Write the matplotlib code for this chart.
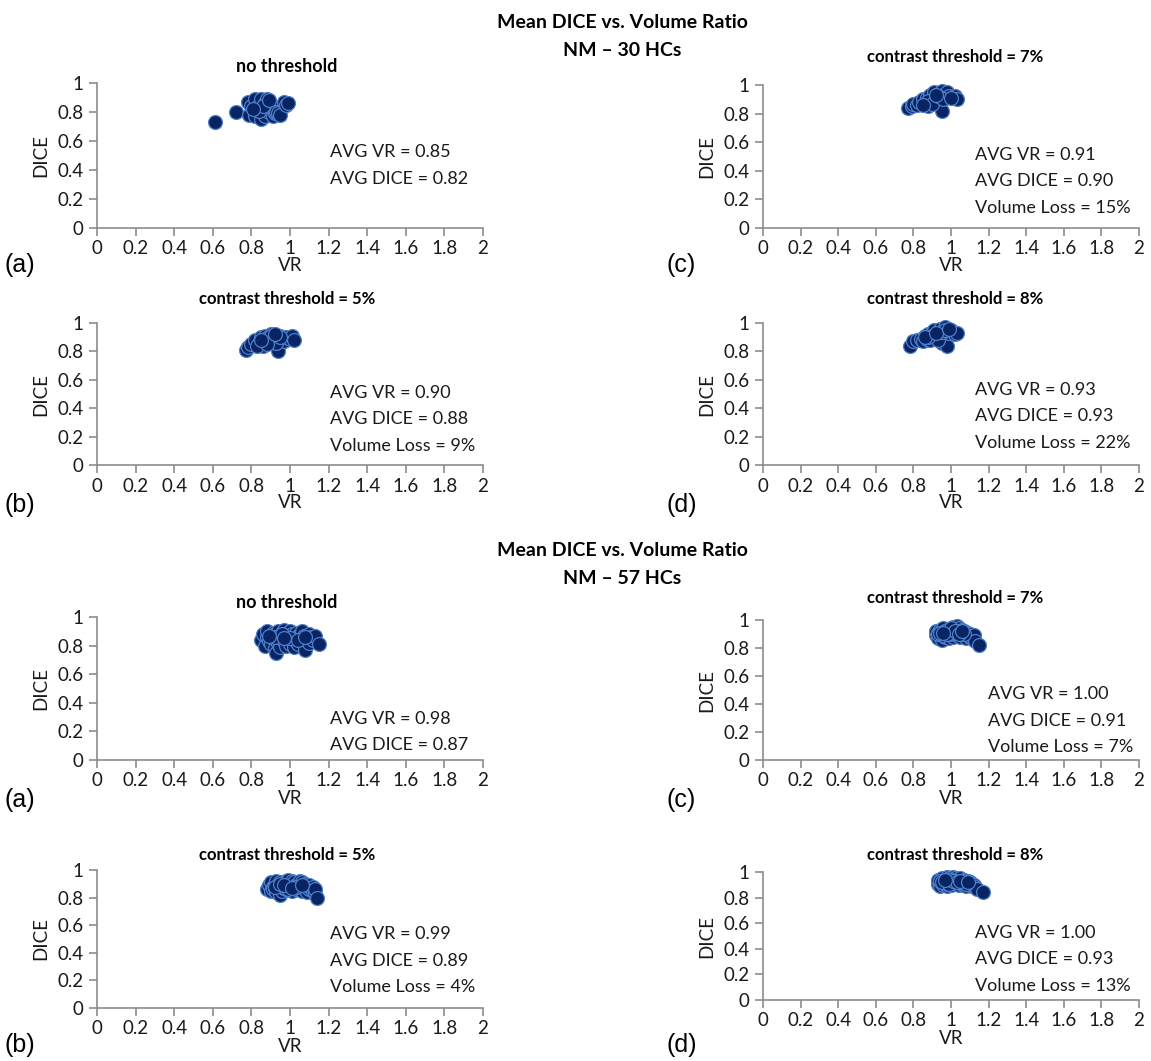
import numpy as np
import matplotlib
matplotlib.use("Agg")
from matplotlib import pyplot as plt

W, H = 1151, 1061

# ---- data: NM - 30 HCs ----
x_a30 = [0.61, 0.72, 0.78, 0.79, 0.80, 0.82, 0.82, 0.83, 0.84, 0.85, 0.85, 0.86, 0.87, 0.87, 0.88,
         0.88, 0.89, 0.90, 0.91, 0.92, 0.93, 0.94, 0.95, 0.97, 0.98, 0.99, 0.84, 0.86, 0.81, 0.89]
y_a30 = [0.73, 0.80, 0.87, 0.78, 0.84, 0.89, 0.77, 0.82, 0.85, 0.89, 0.75, 0.80, 0.86, 0.77, 0.89,
         0.83, 0.80, 0.85, 0.77, 0.79, 0.80, 0.79, 0.78, 0.87, 0.85, 0.86, 0.81, 0.84, 0.82, 0.88]

x_b30 = [0.77, 0.78, 0.80, 0.82, 0.84, 0.85, 0.86, 0.87, 0.88, 0.89, 0.90, 0.91, 0.92, 0.93, 0.94,
         0.95, 0.96, 0.97, 0.98, 1.00, 1.01, 1.02, 0.83, 0.87, 0.90, 0.93, 0.88, 0.95, 0.85, 0.92]
y_b30 = [0.81, 0.83, 0.85, 0.88, 0.86, 0.90, 0.84, 0.91, 0.87, 0.89, 0.92, 0.86, 0.90, 0.88, 0.80,
         0.91, 0.89, 0.87, 0.90, 0.89, 0.91, 0.88, 0.84, 0.89, 0.91, 0.86, 0.85, 0.90, 0.88, 0.92]

x_c30 = [0.77, 0.79, 0.80, 0.82, 0.83, 0.85, 0.86, 0.87, 0.88, 0.89, 0.90, 0.91, 0.92, 0.93, 0.94,
         0.95, 0.95, 0.96, 0.97, 0.98, 0.99, 1.02, 1.03, 0.88, 0.90, 0.93, 0.96, 0.85, 0.92, 1.00]
y_c30 = [0.84, 0.85, 0.87, 0.86, 0.88, 0.90, 0.87, 0.91, 0.85, 0.93, 0.89, 0.95, 0.91, 0.94, 0.88,
         0.82, 0.96, 0.93, 0.91, 0.95, 0.92, 0.92, 0.90, 0.89, 0.87, 0.92, 0.90, 0.86, 0.93, 0.91]

x_d30 = [0.78, 0.80, 0.82, 0.84, 0.85, 0.86, 0.87, 0.88, 0.89, 0.90, 0.91, 0.92, 0.93, 0.94, 0.95,
         0.96, 0.97, 0.98, 0.99, 1.00, 1.02, 1.03, 0.90, 0.93, 0.95, 0.88, 0.97, 0.86, 0.92, 0.99]
y_d30 = [0.84, 0.87, 0.88, 0.89, 0.87, 0.91, 0.89, 0.92, 0.88, 0.93, 0.95, 0.90, 0.94, 0.96, 0.86,
         0.92, 0.97, 0.84, 0.93, 0.95, 0.92, 0.93, 0.91, 0.88, 0.94, 0.90, 0.95, 0.90, 0.93, 0.96]

# ---- data: NM - 57 HCs ----
x_a57 = [0.85, 0.86, 0.87, 0.88, 0.88, 0.89, 0.90, 0.90, 0.91, 0.91, 0.92, 0.92, 0.93, 0.93, 0.94,
         0.94, 0.95, 0.95, 0.96, 0.96, 0.97, 0.97, 0.98, 0.98, 0.99, 0.99, 1.00, 1.00, 1.01, 1.01,
         1.02, 1.02, 1.03, 1.03, 1.04, 1.04, 1.05, 1.05, 1.06, 1.06, 1.07, 1.07, 1.08, 1.09, 1.10,
         1.10, 1.11, 1.12, 1.13, 1.15, 0.92, 0.96, 1.00, 1.04, 0.89, 0.97, 1.08]
y_a57 = [0.84, 0.88, 0.80, 0.86, 0.90, 0.83, 0.87, 0.81, 0.89, 0.85, 0.78, 0.88, 0.84, 0.75, 0.90,
         0.82, 0.87, 0.79, 0.85, 0.89, 0.83, 0.91, 0.80, 0.87, 0.86, 0.84, 0.90, 0.81, 0.88, 0.85,
         0.79, 0.87, 0.89, 0.83, 0.86, 0.81, 0.88, 0.84, 0.86, 0.90, 0.83, 0.87, 0.77, 0.85, 0.88,
         0.82, 0.86, 0.84, 0.87, 0.81, 0.86, 0.88, 0.85, 0.84, 0.87, 0.85, 0.86]

x_b57 = [0.88, 0.89, 0.90, 0.90, 0.91, 0.91, 0.92, 0.92, 0.93, 0.93, 0.94, 0.94, 0.95, 0.95, 0.96,
         0.96, 0.97, 0.97, 0.98, 0.98, 0.99, 0.99, 1.00, 1.00, 1.01, 1.01, 1.02, 1.02, 1.03, 1.03,
         1.04, 1.04, 1.05, 1.05, 1.06, 1.06, 1.07, 1.07, 1.08, 1.08, 1.09, 1.09, 1.10, 1.10, 1.11,
         1.12, 1.12, 1.13, 1.13, 1.14, 0.92, 0.95, 0.99, 1.03, 0.97, 1.01, 1.06]
y_b57 = [0.86, 0.89, 0.85, 0.91, 0.88, 0.86, 0.90, 0.87, 0.84, 0.92, 0.89, 0.86, 0.82, 0.91, 0.88,
         0.85, 0.90, 0.87, 0.92, 0.86, 0.89, 0.93, 0.87, 0.90, 0.85, 0.92, 0.88, 0.91, 0.86, 0.89,
         0.90, 0.87, 0.92, 0.88, 0.85, 0.91, 0.87, 0.89, 0.86, 0.90, 0.88, 0.84, 0.89, 0.86, 0.87,
         0.85, 0.88, 0.83, 0.86, 0.80, 0.88, 0.90, 0.86, 0.88, 0.89, 0.87, 0.89]

x_c57 = [0.92, 0.92, 0.93, 0.93, 0.94, 0.94, 0.95, 0.95, 0.96, 0.96, 0.97, 0.97, 0.98, 0.98, 0.99,
         0.99, 1.00, 1.00, 1.01, 1.01, 1.02, 1.02, 1.03, 1.03, 1.04, 1.04, 1.05, 1.05, 1.06, 1.06,
         1.07, 1.07, 1.08, 1.08, 1.09, 1.09, 1.10, 1.10, 1.11, 1.12, 1.13, 1.15, 0.93, 0.95, 0.97,
         0.99, 1.01, 1.03, 1.05, 1.07, 0.94, 0.98, 1.00, 1.02, 1.04, 0.96, 1.06]
y_c57 = [0.89, 0.92, 0.87, 0.91, 0.93, 0.89, 0.86, 0.92, 0.90, 0.94, 0.88, 0.91, 0.93, 0.89, 0.91,
         0.87, 0.92, 0.90, 0.95, 0.88, 0.93, 0.91, 0.96, 0.89, 0.92, 0.94, 0.90, 0.88, 0.93, 0.91,
         0.89, 0.92, 0.90, 0.87, 0.91, 0.89, 0.90, 0.88, 0.87, 0.89, 0.85, 0.82, 0.90, 0.89, 0.92,
         0.90, 0.93, 0.91, 0.92, 0.90, 0.91, 0.90, 0.94, 0.92, 0.90, 0.91, 0.92]

x_d57 = [0.93, 0.93, 0.94, 0.94, 0.95, 0.95, 0.96, 0.96, 0.97, 0.97, 0.98, 0.98, 0.99, 0.99, 1.00,
         1.00, 1.01, 1.01, 1.02, 1.02, 1.03, 1.03, 1.04, 1.04, 1.05, 1.05, 1.06, 1.06, 1.07, 1.07,
         1.08, 1.08, 1.09, 1.09, 1.10, 1.10, 1.11, 1.11, 1.12, 1.13, 1.14, 1.17, 0.94, 0.96, 0.98,
         1.00, 1.02, 1.04, 1.06, 1.08, 0.95, 0.99, 1.01, 1.03, 0.97, 1.05, 1.09]
y_d57 = [0.91, 0.94, 0.89, 0.93, 0.92, 0.95, 0.90, 0.93, 0.94, 0.91, 0.96, 0.89, 0.93, 0.95, 0.92,
         0.90, 0.94, 0.96, 0.92, 0.95, 0.91, 0.94, 0.93, 0.90, 0.92, 0.95, 0.91, 0.93, 0.94, 0.90,
         0.92, 0.89, 0.93, 0.91, 0.92, 0.90, 0.91, 0.89, 0.90, 0.88, 0.87, 0.84, 0.93, 0.92, 0.91,
         0.94, 0.93, 0.92, 0.93, 0.91, 0.92, 0.91, 0.93, 0.92, 0.94, 0.93, 0.92]

titles = ["no threshold", "contrast threshold = 5%", "contrast threshold = 7%", "contrast threshold = 8%"]
notes_30 = [["AVG VR = 0.85", "AVG DICE = 0.82"],
            ["AVG VR = 0.90", "AVG DICE = 0.88", "Volume Loss = 9%"],
            ["AVG VR = 0.91", "AVG DICE = 0.90", "Volume Loss = 15%"],
            ["AVG VR = 0.93", "AVG DICE = 0.93", "Volume Loss = 22%"]]
notes_57 = [["AVG VR = 0.98", "AVG DICE = 0.87"],
            ["AVG VR = 0.99", "AVG DICE = 0.89", "Volume Loss = 4%"],
            ["AVG VR = 1.00", "AVG DICE = 0.91", "Volume Loss = 7%"],
            ["AVG VR = 1.00", "AVG DICE = 0.93", "Volume Loss = 13%"]]
letters = ["(a)", "(b)", "(c)", "(d)"]

plt.rcParams['font.family'] = ["Lato", 'DejaVu Sans']
GRAY = "#8c8c8c"
TXT = "#1a1a1a"


def px_rect(x0, x1, ytop, ybot):
    return [x0 / W, 1 - ybot / H, (x1 - x0) / W, (ybot - ytop) / H]


def draw_panel(fig, rect, xs, ys, title, title_xy, title_size, notes, note_xy, letter, letter_xy):
    ax = fig.add_axes(rect)
    ax.scatter(xs, ys, s=100, c="#082463", edgecolors="#4f7fc8", linewidths=0.9, zorder=3, clip_on=False)
    ax.set_xlim(0, 2)
    ax.set_ylim(0, 1)
    ax.set_xticks(np.arange(0, 2.01, 0.2))
    ax.set_xticklabels(["0", "0.2", "0.4", "0.6", "0.8", "1", "1.2", "1.4", "1.6", "1.8", "2"])
    ax.set_yticks(np.arange(0, 1.01, 0.2))
    ax.set_yticklabels(["0", "0.2", "0.4", "0.6", "0.8", "1"])
    for side in ["top", "right"]:
        ax.spines[side].set_visible(False)
    for side in ["left", "bottom"]:
        ax.spines[side].set_color(GRAY)
        ax.spines[side].set_linewidth(1.2)
    ax.tick_params(axis="both", colors=GRAY, labelcolor=TXT, labelsize=13.5,
                   length=6, width=1.2, direction="out")
    ax.tick_params(axis="x", pad=3)
    ax.set_xlabel("VR", fontsize=13.5, labelpad=0, color=TXT)
    ax.set_ylabel("DICE", fontsize=13.5, labelpad=6, color=TXT)
    fig.text(title_xy[0] / W, 1 - title_xy[1] / H, title, ha="center", va="center",
             fontsize=title_size, fontweight="bold")
    for i, line in enumerate(notes):
        fig.text(note_xy[0] / W, 1 - (note_xy[1] + 26.5 * i) / H, line, ha="left", va="center",
                 fontsize=13, color=TXT)
    fig.text(letter_xy[0] / W, 1 - letter_xy[1] / H, letter, ha="left", va="center",
             fontsize=18, family="Liberation Sans")
    return ax


fig = plt.figure(figsize=(W / 100, H / 100), dpi=100)

LX0, LX1 = 97, 483
RX0, RX1 = 763, 1139

# section 1
fig.text(622 / W, 1 - 22 / H, "Mean DICE vs. Volume Ratio", ha="center", va="center",
         fontsize=14, fontweight="bold")
fig.text(622 / W, 1 - 50 / H, "NM \u2013 30 HCs", ha="center", va="center",
         fontsize=14, fontweight="bold")
draw_panel(fig, px_rect(LX0, LX1, 83, 228), x_a30, y_a30, titles[0], (287, 67), 13,
           notes_30[0], (330, 152), letters[0], (5, 265))
draw_panel(fig, px_rect(LX0, LX1, 323, 465), x_b30, y_b30, titles[1], (287, 299), 12,
           notes_30[1], (330, 393), letters[1], (5, 505))
draw_panel(fig, px_rect(RX0, RX1, 85, 228), x_c30, y_c30, titles[2], (955, 57), 12,
           notes_30[2], (975, 155), letters[2], (667, 265))
draw_panel(fig, px_rect(RX0, RX1, 323, 465), x_d30, y_d30, titles[3], (955, 299), 12,
           notes_30[3], (975, 390), letters[3], (667, 505))

# section 2
fig.text(622 / W, 1 - 550 / H, "Mean DICE vs. Volume Ratio", ha="center", va="center",
         fontsize=14, fontweight="bold")
fig.text(622 / W, 1 - 578 / H, "NM \u2013 57 HCs", ha="center", va="center",
         fontsize=14, fontweight="bold")
draw_panel(fig, px_rect(LX0, LX1, 617, 760), x_a57, y_a57, titles[0], (287, 602), 13,
           notes_57[0], (330, 719), letters[0], (5, 800))
draw_panel(fig, px_rect(LX0, LX1, 870, 1008), x_b57, y_b57, titles[1], (287, 855), 12,
           notes_57[1], (330, 934), letters[1], (5, 1045))
draw_panel(fig, px_rect(RX0, RX1, 620, 760), x_c57, y_c57, titles[2], (955, 598), 12,
           notes_57[2], (988, 694), letters[2], (667, 800))
draw_panel(fig, px_rect(RX0, RX1, 872, 1000), x_d57, y_d57, titles[3], (955, 855), 12,
           notes_57[3], (975, 933), letters[3], (667, 1045))

fig.savefig("out.png", dpi=100)
